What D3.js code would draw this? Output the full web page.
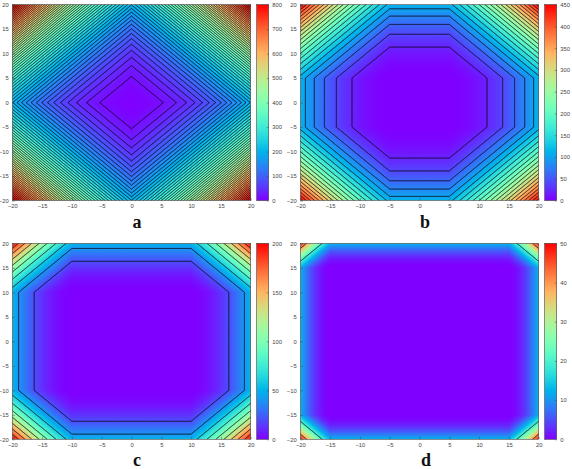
<!DOCTYPE html>
<html>
<head>
<meta charset="utf-8">
<script src="https://cdn.jsdelivr.net/npm/d3@7"></script>
<style>
  html, body { margin: 0; padding: 0; background: #fff; }
  svg { display: block; }
  text { font-family: "Liberation Sans", sans-serif; }
</style>
</head>
<body>
<script>
// Surface heights read at |x|, |y| = 0, 2.5, ... 20 (one quadrant, the plots are symmetric)
const gridStep = 2.5;
const surfaceA = [
  [0, 3.1, 12.5, 28.1, 50, 78.1, 112.5, 153.1, 200],
  [3.1, 12.5, 28.1, 50, 78.1, 112.5, 153.1, 200, 253.1],
  [12.5, 28.1, 50, 78.1, 112.5, 153.1, 200, 253.1, 312.5],
  [28.1, 50, 78.1, 112.5, 153.1, 200, 253.1, 312.5, 378.1],
  [50, 78.1, 112.5, 153.1, 200, 253.1, 312.5, 378.1, 450],
  [78.1, 112.5, 153.1, 200, 253.1, 312.5, 378.1, 450, 528.1],
  [112.5, 153.1, 200, 253.1, 312.5, 378.1, 450, 528.1, 612.5],
  [153.1, 200, 253.1, 312.5, 378.1, 450, 528.1, 612.5, 703.1],
  [200, 253.1, 312.5, 378.1, 450, 528.1, 612.5, 703.1, 800]
];
const surfaceB = [
  [0, 0, 0, 3.1, 12.5, 28.1, 50, 78.1, 112.5],
  [0, 0, 0, 3.1, 12.5, 28.1, 50, 78.1, 112.5],
  [0, 0, 0, 3.1, 12.5, 28.1, 50, 78.1, 112.5],
  [3.1, 3.1, 3.1, 12.5, 28.1, 50, 78.1, 112.5, 153.1],
  [12.5, 12.5, 12.5, 28.1, 50, 78.1, 112.5, 153.1, 200],
  [28.1, 28.1, 28.1, 50, 78.1, 112.5, 153.1, 200, 253.1],
  [50, 50, 50, 78.1, 112.5, 153.1, 200, 253.1, 312.5],
  [78.1, 78.1, 78.1, 112.5, 153.1, 200, 253.1, 312.5, 378.1],
  [112.5, 112.5, 112.5, 153.1, 200, 253.1, 312.5, 378.1, 450]
];
const surfaceC = [
  [0, 0, 0, 0, 0, 3.1, 12.5, 28.1, 50],
  [0, 0, 0, 0, 0, 3.1, 12.5, 28.1, 50],
  [0, 0, 0, 0, 0, 3.1, 12.5, 28.1, 50],
  [0, 0, 0, 0, 0, 3.1, 12.5, 28.1, 50],
  [0, 0, 0, 0, 0, 3.1, 12.5, 28.1, 50],
  [3.1, 3.1, 3.1, 3.1, 3.1, 12.5, 28.1, 50, 78.1],
  [12.5, 12.5, 12.5, 12.5, 12.5, 28.1, 50, 78.1, 112.5],
  [28.1, 28.1, 28.1, 28.1, 28.1, 50, 78.1, 112.5, 153.1],
  [50, 50, 50, 50, 50, 78.1, 112.5, 153.1, 200]
];
const surfaceD = [
  [0, 0, 0, 0, 0, 0, 0, 3.1, 12.5],
  [0, 0, 0, 0, 0, 0, 0, 3.1, 12.5],
  [0, 0, 0, 0, 0, 0, 0, 3.1, 12.5],
  [0, 0, 0, 0, 0, 0, 0, 3.1, 12.5],
  [0, 0, 0, 0, 0, 0, 0, 3.1, 12.5],
  [0, 0, 0, 0, 0, 0, 0, 3.1, 12.5],
  [0, 0, 0, 0, 0, 0, 0, 3.1, 12.5],
  [3.1, 3.1, 3.1, 3.1, 3.1, 3.1, 3.1, 12.5, 28.1],
  [12.5, 12.5, 12.5, 12.5, 12.5, 12.5, 12.5, 28.1, 50]
];

const panelNames = ["a", "b", "c", "d"];
const levelSteps = [14.2, 20, 20, 20];
const colorMaxes = [800, 450, 200, 50];
const colorTicksA = [0, 100, 200, 300, 400, 500, 600, 700, 800];
const colorTicksB = [0, 50, 100, 150, 200, 250, 300, 350, 400, 450];
const colorTicksC = [0, 50, 100, 150, 200];
const colorTicksD = [0, 10, 20, 30, 40, 50];
const axisTicks = [-20, -15, -10, -5, 0, 5, 10, 15, 20];

const surfaces = [surfaceA, surfaceB, surfaceC, surfaceD];
const colorTicks = [colorTicksA, colorTicksB, colorTicksC, colorTicksD];

const W = 572, H = 469;
const plotW = 238.4, plotH = 196, barW = 12, barGap = 6;
const lefts = [12.3, 300.3, 12.3, 300.3];
const tops = [4.6, 4.6, 243.3, 243.3];
const nameX = [137, 425, 137, 426];
const nameY = [228, 228, 466, 466];
const ink = "#444";

const svg = d3.select("body").append("svg").attr("width", W).attr("height", H);

// gnuplot's rgbformulae 33,13,10
function rainbow(t) {
  const c = v => Math.round(255 * Math.max(0, Math.min(1, v)));
  return [c(Math.abs(2 * t - 0.5)), c(Math.sin(Math.PI * t)), c(Math.cos(Math.PI * t / 2))];
}

// The heights grow with the square of the distance, so blend their roots
// between table points, otherwise the contours bow inside every grid cell.
function heightAt(table, x, y) {
  const ax = Math.min(Math.abs(x), 20) / gridStep, ay = Math.min(Math.abs(y), 20) / gridStep;
  const i = Math.min(Math.floor(ax), 7), j = Math.min(Math.floor(ay), 7);
  const fx = ax - i, fy = ay - j;
  const r = (a, b) => Math.sqrt(table[a][b]);
  const top = r(j, i) * (1 - fx) + r(j, i + 1) * fx;
  const bottom = r(j + 1, i) * (1 - fx) + r(j + 1, i + 1) * fx;
  const v = top * (1 - fy) + bottom * fy;
  return v * v;
}

// Paints a function of the pixel position into a canvas and returns its data url.
function paint(w, h, colorOf) {
  const canvas = document.createElement("canvas");
  canvas.width = w;
  canvas.height = h;
  const ctx = canvas.getContext("2d");
  const img = ctx.createImageData(w, h);
  for (let py = 0; py < h; py++) {
    for (let px = 0; px < w; px++) {
      const [r, g, b] = colorOf(px, py);
      const k = 4 * (py * w + px);
      img.data[k] = r;
      img.data[k + 1] = g;
      img.data[k + 2] = b;
      img.data[k + 3] = 255;
    }
  }
  ctx.putImageData(img, 0, 0);
  return canvas.toDataURL();
}

function styleAxis(g) {
  g.selectAll("text").attr("fill", ink).attr("font-size", 5.8);
  g.selectAll("line").attr("stroke", ink).attr("stroke-width", 0.5);
  g.select(".domain").attr("stroke", "none");
}

panelNames.forEach((name, p) => {
  const table = surfaces[p];
  const zMax = colorMaxes[p];
  const x = d3.scaleLinear().domain([-20, 20]).range([0, plotW]);
  const y = d3.scaleLinear().domain([-20, 20]).range([plotH, 0]);
  const color = d3.scaleLinear().domain([0, zMax]).range([0, 1]).clamp(true);

  const g = svg.append("g").attr("transform", `translate(${lefts[p]},${tops[p]})`);
  const clipId = `clip-${name}`;
  g.append("clipPath").attr("id", clipId)
    .append("rect").attr("width", plotW).attr("height", plotH);

  const iw = Math.ceil(plotW), ih = Math.ceil(plotH);
  g.append("image")
    .attr("width", iw).attr("height", ih)
    .attr("clip-path", `url(#${clipId})`)
    .attr("href", paint(iw, ih, (px, py) =>
      rainbow(color(heightAt(table, x.invert(px + 0.5), y.invert(py + 0.5))))));

  // Contours: the sampled grid runs past the frame so no line follows the border
  const gridN = 441;
  const toData = d3.scaleLinear().domain([0, gridN - 1]).range([-22, 22]);
  const values = new Float64Array(gridN * gridN);
  for (let j = 0; j < gridN; j++) {
    for (let i = 0; i < gridN; i++) {
      values[j * gridN + i] = heightAt(table, toData(i), toData(j));
    }
  }
  const contours = d3.contours().size([gridN, gridN]).smooth(true)
    .thresholds(d3.range(levelSteps[p], zMax, levelSteps[p]));
  const path = d3.geoPath(d3.geoTransform({
    point(a, b) {
      this.stream.point(x(toData(a - 0.5)), y(toData(b - 0.5)));
    }
  }));
  g.append("g").attr("clip-path", `url(#${clipId})`)
    .selectAll("path")
    .data(contours(values))
    .join("path")
    .attr("d", path)
    .attr("fill", "none")
    .attr("stroke", "#100818")
    .attr("stroke-width", 0.9);

  // Axes with gnuplot's small inward ticks
  g.append("g").attr("transform", `translate(0,${plotH})`)
    .call(d3.axisBottom(x).tickValues(axisTicks).tickSize(-2.5).tickPadding(3.6))
    .call(styleAxis);
  g.append("g")
    .call(d3.axisLeft(y).tickValues(axisTicks).tickSize(-2.5).tickPadding(3.6))
    .call(styleAxis);
  g.append("rect")
    .attr("width", plotW).attr("height", plotH)
    .attr("fill", "none").attr("stroke", ink).attr("stroke-width", 0.6);

  // Colour bar
  const bar = g.append("g").attr("transform", `translate(${plotW + barGap},0)`);
  const barY = d3.scaleLinear().domain([0, zMax]).range([plotH, 0]);
  bar.append("image")
    .attr("width", barW).attr("height", ih)
    .attr("href", paint(barW, ih, (px, py) => rainbow(color(barY.invert(py + 0.5)))));
  bar.append("g").attr("transform", `translate(${barW},0)`)
    .call(d3.axisRight(barY).tickValues(colorTicks[p]).tickSize(-2).tickPadding(3.6))
    .call(styleAxis);
  bar.append("rect")
    .attr("width", barW).attr("height", plotH)
    .attr("fill", "none").attr("stroke", ink).attr("stroke-width", 0.6);

  svg.append("text")
    .attr("x", nameX[p]).attr("y", nameY[p])
    .attr("text-anchor", "middle")
    .style("font-family", '"Liberation Serif", serif')
    .attr("font-weight", "bold")
    .attr("font-size", 18)
    .attr("fill", "#111")
    .text(name);
});
</script>
</body>
</html>
